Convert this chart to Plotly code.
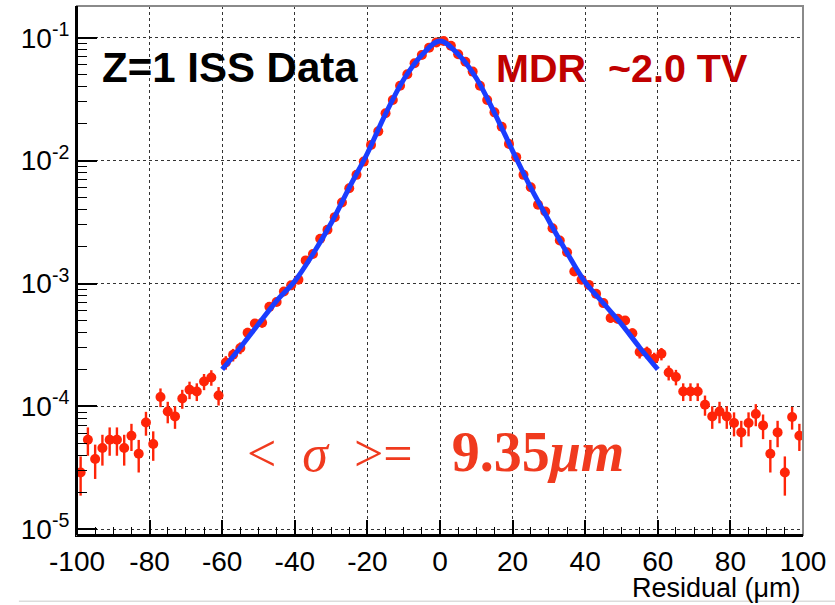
import plotly.graph_objects as go

# ---------------- data ----------------
bin_centers = [-99, -97, -95, -93, -91, -89, -87, -85, -83, -81,
               -79, -77, -75, -73, -71, -69, -67, -65, -63, -61,
               -59, -57, -55, -53, -51, -49, -47, -45, -43, -41,
               -39, -37, -35, -33, -31, -29, -27, -25, -23, -21,
               -19, -17, -15, -13, -11, -9, -7, -5, -3, -1,
               1, 3, 5, 7, 9, 11, 13, 15, 17, 19,
               21, 23, 25, 27, 29, 31, 33, 35, 37, 39,
               41, 43, 45, 47, 49, 51, 53, 55, 57, 59,
               61, 63, 65, 67, 69, 71, 73, 75, 77, 79,
               81, 83, 85, 87, 89, 91, 93, 95, 97, 99]

counts = [2.90e-5, 5.36e-5, 3.73e-5, 4.59e-5, 5.36e-5, 5.36e-5, 4.59e-5, 5.78e-5, 4.12e-5, 7.41e-5,
          4.94e-5, 1.194e-4, 9.10e-5, 8.30e-5, 1.161e-4, 1.368e-4, 1.324e-4, 1.596e-4, 1.722e-4, 1.227e-4,
          2.28e-4, 2.63e-4, 2.99e-4, 3.98e-4, 4.73e-4, 4.79e-4, 6.46e-4, 7.08e-4, 8.61e-4, 9.66e-4,
          1.072e-3, 1.542e-3, 1.738e-3, 2.317e-3, 2.735e-3, 3.467e-3, 4.56e-3, 5.96e-3, 7.66e-3, 9.82e-3,
          1.343e-2, 1.730e-2, 2.427e-2, 3.11e-2, 4.07e-2, 5.04e-2, 6.19e-2, 7.23e-2, 8.30e-2, 9.16e-2,
          9.40e-2, 8.61e-2, 7.33e-2, 6.38e-2, 5.30e-2, 4.07e-2, 3.11e-2, 2.47e-2, 1.888e-2, 1.368e-2,
          1.067e-2, 7.66e-3, 6.08e-3, 4.37e-3, 3.85e-3, 2.818e-3, 2.239e-3, 1.799e-3, 1.253e-3, 1.072e-3,
          9.75e-4, 8.24e-4, 6.93e-4, 5.24e-4, 5.16e-4, 5.00e-4, 3.94e-4, 2.77e-4, 2.75e-4, 2.44e-4,
          2.68e-4, 1.888e-4, 1.734e-4, 1.324e-4, 1.324e-4, 1.324e-4, 1.033e-4, 8.30e-5, 9.10e-5, 8.30e-5,
          7.33e-5, 6.15e-5, 7.33e-5, 8.67e-5, 7.01e-5, 4.12e-5, 6.15e-5, 2.90e-5, 8.20e-5, 5.78e-5]

errors = [1.02e-5, 1.39e-5, 1.16e-5, 1.29e-5, 1.39e-5, 1.39e-5, 1.29e-5, 1.44e-5, 1.22e-5, 1.63e-5,
          1.33e-5, 2.07e-5, 1.81e-5, 1.73e-5, 2.04e-5, 2.22e-5, 2.18e-5, 2.40e-5, 2.49e-5, 2.10e-5,
          2.86e-5, 3.08e-5, 3.28e-5, 3.79e-5, 4.13e-5, 4.15e-5, 4.82e-5, 5.05e-5, 5.57e-5, 5.90e-5,
          6.21e-5, 7.45e-5, 7.91e-5, 9.13e-5, 9.92e-5, 1.12e-4, 1.28e-4, 1.46e-4, 1.66e-4, 1.88e-4,
          2.20e-4, 2.50e-4, 2.96e-4, 3.35e-4, 3.83e-4, 4.26e-4, 4.72e-4, 5.10e-4, 5.47e-4, 5.74e-4,
          5.82e-4, 5.57e-4, 5.14e-4, 4.79e-4, 4.37e-4, 3.83e-4, 3.35e-4, 2.98e-4, 2.61e-4, 2.22e-4,
          1.96e-4, 1.66e-4, 1.48e-4, 1.25e-4, 1.18e-4, 1.01e-4, 8.98e-5, 8.05e-5, 6.72e-5, 6.21e-5,
          5.92e-5, 5.45e-5, 4.99e-5, 4.34e-5, 4.31e-5, 4.24e-5, 3.77e-5, 3.16e-5, 3.15e-5, 2.96e-5,
          3.11e-5, 2.61e-5, 2.50e-5, 2.18e-5, 2.18e-5, 2.18e-5, 1.93e-5, 1.73e-5, 1.81e-5, 1.73e-5,
          1.62e-5, 1.49e-5, 1.62e-5, 1.77e-5, 1.59e-5, 1.22e-5, 1.49e-5, 1.02e-5, 1.72e-5, 1.44e-5]

fit_x = [-60, -55, -50, -45, -40, -35, -30, -25, -20, -15, -10, -5, 0,
         5, 10, 15, 20, 25, 30, 35, 40, 45, 50, 55, 60]
fit_y = [2.00e-4, 3.02e-4, 4.68e-4, 7.24e-4, 1.047e-3, 1.738e-3, 3.09e-3, 6.03e-3, 1.148e-2,
         2.40e-2, 4.57e-2, 7.24e-2, 9.40e-2, 7.33e-2, 4.68e-2, 2.45e-2, 1.202e-2, 6.03e-3,
         3.24e-3, 1.778e-3, 1.023e-3, 6.92e-4, 4.68e-4, 3.02e-4, 2.00e-4]

x_ticks = [-100, -80, -60, -40, -20, 0, 20, 40, 60, 80, 100]
x_tick_text = ["-100", "-80", "-60", "-40", "-20", "0", "20", "40", "60", "80", "100"]
y_ticks = [1e-5, 1e-4, 1e-3, 1e-2, 1e-1]
y_tick_text = ["10<sup>-5</sup>", "10<sup>-4</sup>", "10<sup>-3</sup>", "10<sup>-2</sup>", "10<sup>-1</sup>"]
y_minor = [k * 10.0 ** e for e in (-5, -4, -3, -2, -1) for k in (2, 3, 4, 5, 6, 7, 8, 9)]

RED = "#ff2408"
BLUE = "#1a3dff"
FONT = "Liberation Sans, Arial, Helvetica, sans-serif"
SERIF = "Liberation Serif, DejaVu Serif, serif"

fig = go.Figure()
fig.add_trace(go.Scatter(
    x=bin_centers, y=counts, mode="markers",
    marker=dict(color=RED, size=10, line=dict(width=0)),
    error_y=dict(type="data", array=errors, color=RED, thickness=2.4, width=0),
    showlegend=False, hoverinfo="skip"))
fig.add_trace(go.Scatter(
    x=fit_x, y=fit_y, mode="lines",
    line=dict(color=BLUE, width=5, shape="spline", smoothing=1.0),
    showlegend=False, hoverinfo="skip"))

fig.update_layout(
    width=835, height=605, autosize=False,
    margin=dict(l=77, r=32, t=6, b=70),
    paper_bgcolor="white", plot_bgcolor="white",
    font=dict(family=FONT, color="black"),
    xaxis=dict(
        range=[-100, 100], tickvals=x_ticks, ticktext=x_tick_text,
        ticks="inside", ticklen=15, tickwidth=1.5, tickcolor="black",
        showline=True, linecolor="black", linewidth=2,
        showgrid=True, gridcolor="#333", griddash="dot", gridwidth=1,
        zeroline=False, tickfont=dict(size=28, family=FONT),
        minor=dict(dtick=5, ticks="inside", ticklen=8, tickcolor="black", tickwidth=1.2, showgrid=False),
    ),
    yaxis=dict(
        type="log", range=[-5.046, -0.742], tickvals=y_ticks, ticktext=y_tick_text,
        ticks="inside", ticklen=20, tickwidth=1.5, tickcolor="black",
        showline=True, linecolor="black", linewidth=2,
        showgrid=True, gridcolor="#333", griddash="dot", gridwidth=1,
        zeroline=False, tickfont=dict(size=28, family=FONT),
        minor=dict(tickvals=y_minor, ticks="inside", ticklen=10, tickcolor="black", tickwidth=1.2, showgrid=False),
    ),
)

# frame (top / right in grey)
fig.add_shape(type="rect", xref="paper", yref="paper", x0=0, x1=1, y0=0, y1=1,
              line=dict(color="#8a8a8a", width=2), layer="above")
fig.add_shape(type="line", xref="paper", yref="paper", x0=0, x1=0, y0=0, y1=1,
              line=dict(color="black", width=2), layer="above")
fig.add_shape(type="line", xref="paper", yref="paper", x0=0, x1=1, y0=0, y1=0,
              line=dict(color="black", width=2), layer="above")
# faint slide separator line at the very bottom
fig.add_shape(type="line", xref="paper", yref="paper", x0=-0.08, x1=1.044, y0=-0.125, y1=-0.125,
              line=dict(color="#dcdcdc", width=1.5), layer="below")

fig.add_annotation(text="<b>Z=1 ISS Data</b>", xref="paper", yref="paper",
                   x=0.032, y=0.883, xanchor="left", yanchor="middle", showarrow=False,
                   font=dict(size=42, color="black", family=FONT))
fig.add_annotation(text="<b>MDR&nbsp; ~2.0 TV</b>", xref="paper", yref="paper",
                   x=0.574, y=0.883, xanchor="left", yanchor="middle", showarrow=False,
                   font=dict(size=39.5, color="#c00000", family=FONT))
fig.add_annotation(text="&lt;&nbsp;&nbsp;<i>σ</i>&nbsp;&nbsp;&gt;=&nbsp;&nbsp;&nbsp;"
                        "<span style='font-size:56px'><b>9.35</b><b><i>μm</i></b></span>",
                   xref="paper", yref="paper",
                   x=0.232, y=0.157, xanchor="left", yanchor="middle", showarrow=False,
                   font=dict(size=52, color="#f03a1e", family=SERIF))
fig.add_annotation(text="Residual (μm)", xref="paper", yref="paper",
                   x=1.0, y=-0.1, xanchor="right", yanchor="middle", showarrow=False,
                   font=dict(size=27, color="black", family=FONT))

fig.write_html("out.html")
